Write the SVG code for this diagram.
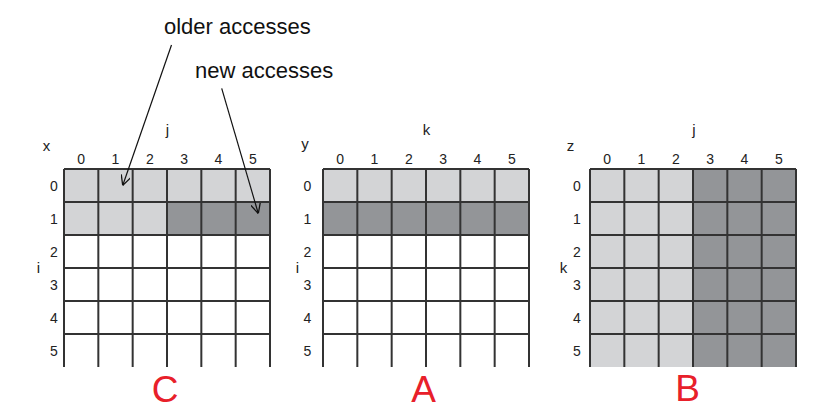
<svg xmlns="http://www.w3.org/2000/svg" width="834" height="413" viewBox="0 0 834 413">
<style>
.t{font-family:"Liberation Sans",Arial,sans-serif;fill:#222;}
.n{font-size:14px;text-anchor:middle;}
.ax{font-size:15px;text-anchor:middle;}
.lab{font-size:22px;fill:#111;}
.lt{fill:#d3d4d6;}
.dk{fill:#939598;}
.g{stroke:#333;stroke-width:2;fill:none;}
.red{font-family:"Liberation Sans",Arial,sans-serif;font-size:37px;fill:#e8202a;text-anchor:middle;}
.arr{stroke:#111;stroke-width:1.2;fill:none;}
</style>
<defs>
<marker id="ah" viewBox="0 0 10 10" refX="10" refY="5" markerWidth="10" markerHeight="10" markerUnits="userSpaceOnUse" orient="auto">
<path d="M0,0 L10,5 L0,10" fill="none" stroke="#111" stroke-width="1.3"/>
</marker>
<g id="cols">
<text class="t n" x="17.2" y="0">0</text>
<text class="t n" x="51.5" y="0">1</text>
<text class="t n" x="85.8" y="0">2</text>
<text class="t n" x="120.2" y="0">3</text>
<text class="t n" x="154.5" y="0">4</text>
<text class="t n" x="188.8" y="0">5</text>
</g>
<g id="rows">
<text class="t n" x="0" y="190.5">0</text>
<text class="t n" x="0" y="223.5">1</text>
<text class="t n" x="0" y="256.5">2</text>
<text class="t n" x="0" y="289.5">3</text>
<text class="t n" x="0" y="322.5">4</text>
<text class="t n" x="0" y="355.5">5</text>
</g>
<path id="grid" class="g" d="M0,169 H206 M0,202 H206 M0,235 H206 M0,268 H206 M0,301 H206 M0,334 H206 M0,169 V367 M34.33,169 V367 M68.67,169 V367 M103,169 V367 M137.33,169 V367 M171.67,169 V367 M206,169 V367"/>
</defs>

<g id="gridC">
<rect class="lt" x="64" y="169" width="206" height="33"/>
<rect class="lt" x="64" y="202" width="103" height="33"/>
<rect class="dk" x="167" y="202" width="103" height="33"/>
<use href="#grid" x="64"/>
<use href="#cols" x="64" y="164"/>
<use href="#rows" x="54"/>
<text class="t ax" x="46.5" y="151">x</text>
<text class="t ax" x="167.5" y="135">j</text>
<text class="t ax" x="38.5" y="273">i</text>
<text class="red" x="165" y="402">C</text>
</g>

<g id="gridA">
<rect class="lt" x="323" y="169" width="206" height="33"/>
<rect class="dk" x="323" y="202" width="206" height="33"/>
<use href="#grid" x="323"/>
<use href="#cols" x="323" y="164"/>
<use href="#rows" x="307.5"/>
<text class="t ax" x="305" y="149">y</text>
<text class="t ax" x="426.5" y="135">k</text>
<text class="t ax" x="297.5" y="273">i</text>
<text class="red" x="423.5" y="402">A</text>
</g>

<g id="gridB">
<rect class="lt" x="590" y="169" width="103" height="198"/>
<rect class="dk" x="693" y="169" width="103" height="198"/>
<use href="#grid" x="590"/>
<use href="#cols" x="590" y="164"/>
<use href="#rows" x="577"/>
<text class="t ax" x="570.5" y="151">z</text>
<text class="t ax" x="694" y="135">j</text>
<text class="t ax" x="563.5" y="273">k</text>
<text class="red" x="687.5" y="401">B</text>
</g>

<g id="label-older">
<text class="t lab" x="164" y="34">older accesses</text>
</g>
<g id="label-new">
<text class="t lab" x="195" y="78">new accesses</text>
</g>

<g id="connectors">
<line class="arr" x1="171.5" y1="45" x2="122.7" y2="185.5" marker-end="url(#ah)"/>
<line class="arr" x1="221.7" y1="88.3" x2="258.3" y2="213.5" marker-end="url(#ah)"/>
</g>
</svg>
